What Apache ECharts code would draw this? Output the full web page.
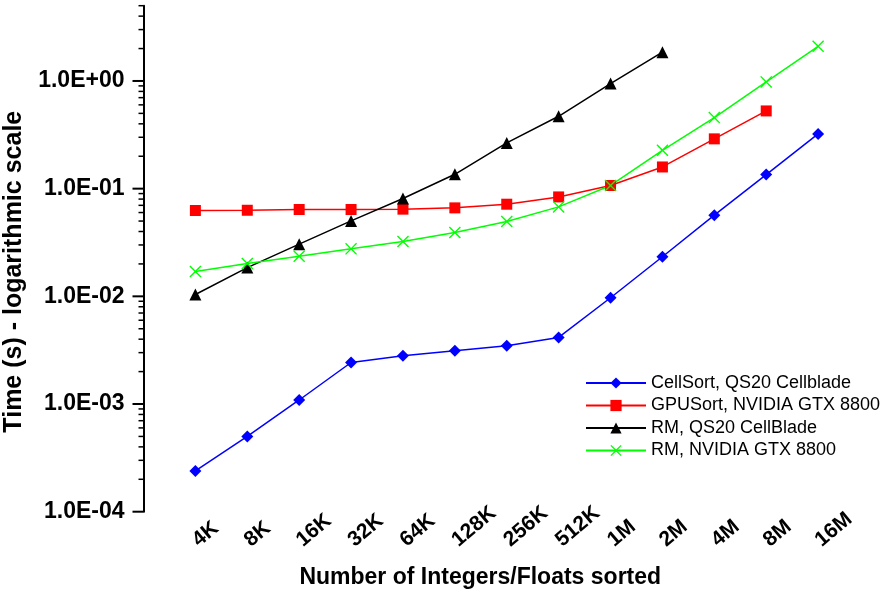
<!DOCTYPE html>
<html>
<head>
<meta charset="utf-8">
<script src="https://cdn.jsdelivr.net/npm/echarts@6/dist/echarts.min.js"></script>
<style>
  html, body { margin: 0; padding: 0; background: #fff; }
  #chart { width: 892px; height: 594px; }
</style>
</head>
<body>
<div id="chart"></div>
<script>
// x categories (number of elements sorted)
const sizes = ['4K', '8K', '16K', '32K', '64K', '128K', '256K', '512K', '1M', '2M', '4M', '8M', '16M'];

// time in seconds
const cellSort = [2.39e-4, 5.0e-4, 1.09e-3, 2.43e-3, 2.81e-3, 3.12e-3, 3.47e-3, 4.15e-3, 9.7e-3, 2.33e-2, 5.67e-2, 0.135, 0.322];
const gpuSort = [0.0627, 0.063, 0.064, 0.064, 0.0645, 0.0663, 0.0717, 0.0838, 0.107, 0.159, 0.29, 0.527, null];
const rmCell = [0.0104, 0.0185, 0.0305, 0.0502, 0.081, 0.136, 0.266, 0.47, 0.946, 1.85, null, null, null];
const rmGpu = [0.017, 0.0202, 0.0236, 0.0276, 0.0323, 0.0392, 0.0495, 0.0677, 0.107, 0.227, 0.457, 0.98, 2.1];

// y axis ticks
const majorTicks = [1e-4, 1e-3, 1e-2, 1e-1, 1];
const minorTicks = [];
for (let e = -4; e < 0; e++) {
  for (let m = 2; m <= 9; m++) minorTicks.push(m * Math.pow(10, e));
}
minorTicks.push(2, 3, 4, 5);

const FONT = '"Liberation Sans", Arial, Helvetica, sans-serif';
const crossPath = 'path://M0,0.8L0.8,0L5,4.2L9.2,0L10,0.8L5.8,5L10,9.2L9.2,10L5,5.8L0.8,10L0,9.2L4.2,5Z';

// 空类目在两端，让第一个点离开y轴
const axisCats = [''].concat(sizes, ['']);

function toPairs(values) {
  const out = [];
  values.forEach((v, i) => {
    if (v != null) out.push([sizes[i], v]);
  });
  return out;
}

function fmtExp(v) {
  const e = Math.round(Math.log10(v));
  if (Math.abs(v - Math.pow(10, e)) > 1e-9 * Math.pow(10, e)) return '';
  const a = Math.abs(e);
  return '1.0E' + (e < 0 ? '-' : '+') + (a < 10 ? '0' + a : a);
}

function lineSeries(name, values, color, symbol, size) {
  return {
    name: name,
    type: 'line',
    data: toPairs(values),
    symbol: symbol,
    symbolSize: size,
    showAllSymbol: true,
    lineStyle: { color: color, width: 1.5 },
    itemStyle: { color: color },
    emphasis: { disabled: true },
    animation: false
  };
}

const chart = echarts.init(document.getElementById('chart'));

const option = {
  animation: false,
  grid: { left: 143.5, right: 22, top: 5.7, bottom: 82.3, outerBoundsMode: 'none' },
  legend: {
    orient: 'vertical',
    left: 580,
    top: 367,
    itemWidth: 60,
    itemHeight: 14,
    itemGap: 0.5,
    data: ['CellSort, QS20 Cellblade', 'GPUSort, NVIDIA GTX 8800', 'RM, QS20 CellBlade', 'RM, NVIDIA GTX 8800'],
    textStyle: { fontFamily: FONT, fontSize: 18, color: '#000', lineHeight: 22 }
  },
  xAxis: {
    type: 'category',
    data: axisCats,
    boundaryGap: false,
    axisLine: { show: false },
    axisTick: { show: false },
    splitLine: { show: false },
    axisLabel: {
      interval: 0,
      rotate: 40,
      align: 'left',
      verticalAlign: 'middle',
      margin: 31,
      fontFamily: FONT,
      fontWeight: 'bold',
      fontSize: 21,
      color: '#000'
    },
    name: 'Number of Integers/Floats sorted',
    nameLocation: 'middle',
    nameGap: 54,
    nameTextStyle: { fontFamily: FONT, fontWeight: 'bold', fontSize: 23, color: '#000', padding: [0, 53, 0, 0] }
  },
  yAxis: {
    type: 'log',
    logBase: 10,
    min: 1e-4,
    max: 5,
    axisLine: { show: true, lineStyle: { color: '#000', width: 2 } },
    axisTick: { show: false },
    splitLine: { show: false },
    axisLabel: {
      margin: 19,
      showMaxLabel: false,
      formatter: fmtExp,
      fontFamily: FONT,
      fontWeight: 'bold',
      fontSize: 23,
      color: '#000'
    },
    name: 'Time (s) - logarithmic scale',
    nameLocation: 'middle',
    nameRotate: 90,
    nameGap: 117,
    nameTextStyle: { fontFamily: FONT, fontWeight: 'bold', fontSize: 25, color: '#000', padding: [0, 26, 0, 0] }
  },
  series: [
    {
      type: 'custom',
      name: 'ticks',
      silent: true,
      clip: false,
      data: majorTicks.map(v => [0, v, 11]).concat(minorTicks.map(v => [0, v, 5])),
      renderItem: function (params, api) {
        const p = api.coord([0, api.value(1)]);
        const len = api.value(2);
        return {
          type: 'line',
          shape: { x1: p[0] - len, y1: p[1], x2: p[0], y2: p[1] },
          style: { stroke: '#000', lineWidth: len > 6 ? 2 : 1.5 }
        };
      }
    },
    lineSeries('CellSort, QS20 Cellblade', cellSort, '#0000ff', 'diamond', 12),
    lineSeries('GPUSort, NVIDIA GTX 8800', gpuSort, '#ff0000', 'rect', 11),
    lineSeries('RM, QS20 CellBlade', rmCell, '#000000', 'triangle', 12),
    lineSeries('RM, NVIDIA GTX 8800', rmGpu, '#00ff00', crossPath, 12)
  ]
};

chart.setOption(option);
</script>
</body>
</html>
